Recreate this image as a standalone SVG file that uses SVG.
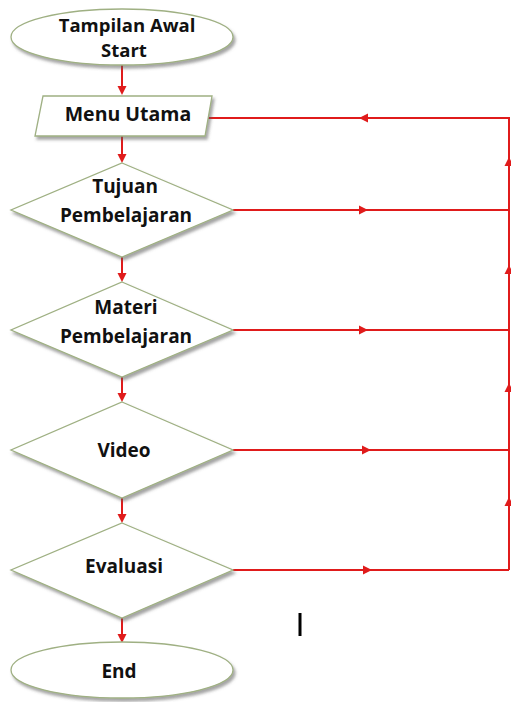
<svg xmlns="http://www.w3.org/2000/svg" width="511" height="702" viewBox="0 0 511 702">
<style>
.node{fill:#ffffff;stroke:#9fb083;stroke-width:1.3;filter:url(#sh)}
.lbl{font-family:"Open Sans","Liberation Sans",sans-serif;font-weight:700;font-size:19px;fill:#111;text-anchor:middle}
.con{fill:none;stroke:#e01b1b;stroke-width:2}
.ah{fill:#e01b1b}
</style>
<defs>
<filter id="sh" x="-10%" y="-20%" width="125%" height="150%">
<feDropShadow dx="2" dy="3" stdDeviation="1.6" flood-color="#5a5a5a" flood-opacity="0.55"/>
</filter>
<path id="ah" d="M0,0 L-9,-4.5 L-9,4.5 Z"/>
</defs>
<rect width="511" height="702" fill="#ffffff"/>

<g id="connectors">
<path class="con" d="M122,65 V92"/>
<path class="con" d="M122,136 V160"/>
<path class="con" d="M122,257 V279"/>
<path class="con" d="M122,377 V399"/>
<path class="con" d="M122,498 V520"/>
<path class="con" d="M122,618 V640"/>
<path class="con" d="M208,118 H509 V570"/>
<path class="con" d="M233,210 H509"/>
<path class="con" d="M233,330 H509"/>
<path class="con" d="M233,450 H509"/>
<path class="con" d="M233,570 H509"/>
<g class="ah">
<use href="#ah" transform="translate(122,95) rotate(90)"/>
<use href="#ah" transform="translate(122,163) rotate(90)"/>
<use href="#ah" transform="translate(122,282) rotate(90)"/>
<use href="#ah" transform="translate(122,402) rotate(90)"/>
<use href="#ah" transform="translate(122,523) rotate(90)"/>
<use href="#ah" transform="translate(122,643) rotate(90)"/>
<use href="#ah" transform="translate(359,118) rotate(180)"/>
<use href="#ah" transform="translate(368,210)"/>
<use href="#ah" transform="translate(368,330)"/>
<use href="#ah" transform="translate(371,450)"/>
<use href="#ah" transform="translate(372,570)"/>
<use href="#ah" transform="translate(509,157) rotate(-90)"/>
<use href="#ah" transform="translate(509,265) rotate(-90)"/>
<use href="#ah" transform="translate(509,383) rotate(-90)"/>
<use href="#ah" transform="translate(509,497) rotate(-90)"/>
</g>
</g>

<g id="start">
<ellipse class="node" cx="122" cy="37" rx="111" ry="28"/>
<text class="lbl" x="127" y="32" style="font-size:18.5px">Tampilan Awal</text>
<text class="lbl" x="124" y="57" style="font-size:18.5px">Start</text>
</g>
<g id="menu">
<polygon class="node" points="43,96 212,96 205,136 35,136"/>
<text class="lbl" x="128" y="121" style="font-size:19.5px">Menu Utama</text>
</g>
<g id="tujuan">
<polygon class="node" points="122,163 233,210 122,257 11,210"/>
<text class="lbl" x="125" y="193">Tujuan</text>
<text class="lbl" x="126" y="222">Pembelajaran</text>
</g>
<g id="materi">
<polygon class="node" points="122,282 233,330 122,377 11,330"/>
<text class="lbl" x="126" y="314">Materi</text>
<text class="lbl" x="126" y="343">Pembelajaran</text>
</g>
<g id="video">
<polygon class="node" points="122,402 233,450 122,498 11,450"/>
<text class="lbl" x="124" y="457">Video</text>
</g>
<g id="evaluasi">
<polygon class="node" points="122,523 233,570 122,618 11,570"/>
<text class="lbl" x="124" y="573">Evaluasi</text>
</g>
<g id="end">
<ellipse class="node" cx="122" cy="670" rx="111" ry="28"/>
<text class="lbl" x="119" y="678">End</text>
</g>
<rect x="298.5" y="613" width="3" height="23" fill="#000"/>
</svg>
